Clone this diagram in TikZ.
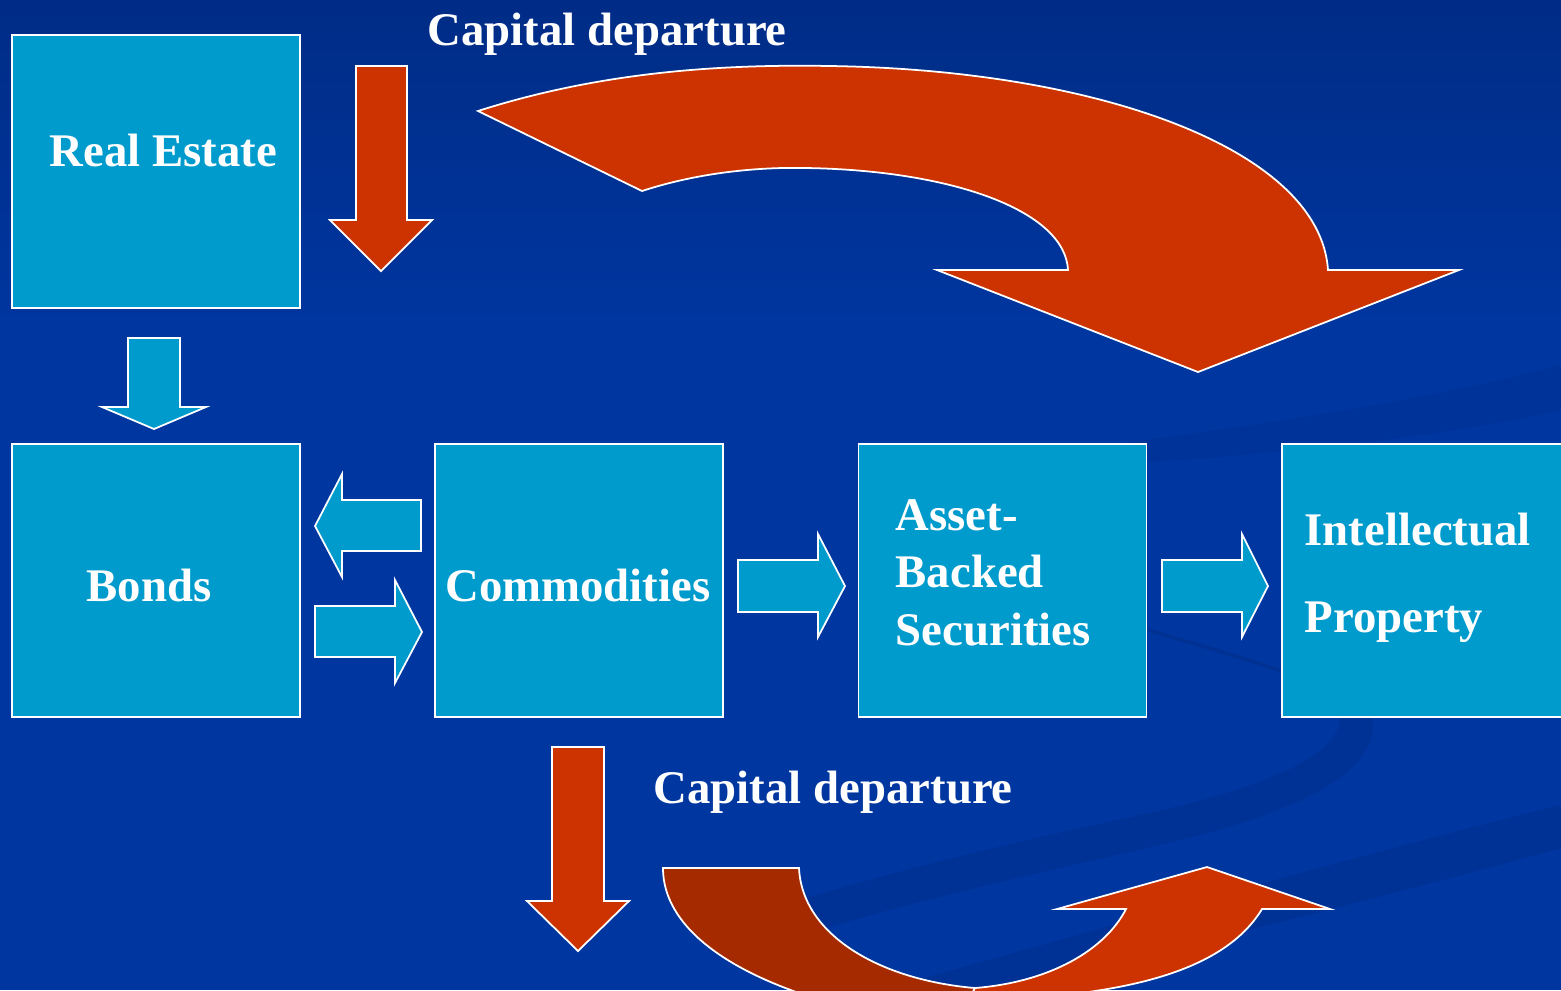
\documentclass[tikz,border=0pt]{standalone}
\usepackage{fontspec}
\setmainfont{Liberation Serif}
\usetikzlibrary{positioning}

\definecolor{bgblue}{HTML}{0036A0}
\definecolor{bgtop}{HTML}{002C86}
\definecolor{swoosh}{HTML}{002F8E}
\definecolor{boxblue}{HTML}{009BCD}
\definecolor{flowred}{HTML}{CC3300}
\definecolor{flowdark}{HTML}{A52A00}

\tikzset{
  asset/.style={draw=white, fill=boxblue, line width=0.5pt, minimum width=2.88cm, minimum height=2.73cm, inner sep=0pt, outer sep=0pt},
  boxtext/.style={text=white, font=\fontsize{13.3}{16.2}\selectfont\bfseries, inner sep=0pt},
  redarrow/.style={draw=white, fill=flowred, line width=0.5pt},
  darkarrow/.style={draw=white, fill=flowdark, line width=0.5pt},
  bluearrow/.style={draw=white, fill=boxblue, line width=0.5pt},
}

\begin{document}
\begin{tikzpicture}[x=0.01cm, y=-0.01cm]
\useasboundingbox (0,0) rectangle (1561,990);
\clip (0,0) rectangle (1561,990);
% background
\fill[bgblue] (0,0) rectangle (1561,990);
\shade[top color=bgtop, bottom color=bgblue] (0,0) rectangle (1561,330);
\fill[swoosh, opacity=0.35] (1100,446) .. controls (1300,420) and (1450,395) .. (1561,365) -- (1561,410) .. controls (1450,435) and (1300,452) .. (1150,462) -- cycle;
\fill[swoosh, opacity=0.6] (1340,717) .. controls (1340,760) and (1250,790) .. (1150,813) .. controls (1000,845) and (900,870) .. (800,900) -- (820,930) .. controls (950,890) and (1100,860) .. (1200,835) .. controls (1330,800) and (1380,760) .. (1372,717) -- cycle;
\fill[swoosh, opacity=0.6] (1561,805) -- (1561,848) .. controls (1300,920) and (1100,965) .. (1000,990) -- (880,990) .. controls (1100,930) and (1300,870) .. cycle;
\draw[swoosh, line width=1pt, opacity=0.7] (1130,625) .. controls (1200,645) and (1250,660) .. (1290,674);

% boxes
\node[asset] (bonds) at (156,580.5) {};
\node[asset, above=1.36cm of bonds] (estate) {};
\node[asset, right=1.35cm of bonds] (comm) {};
\node[asset, right=1.35cm of comm] (abs) {};
\node[asset, right=1.35cm of abs] (ip) {};

\node[boxtext, anchor=base west] (estatetxt) at (49,166) {Real Estate};
\node[boxtext, anchor=base] (bondstxt) at (149,601) {Bonds};
\node[boxtext, anchor=base] (commtxt) at (578,601) {Commodities};
\node[boxtext, anchor=base west] (abs1) at (895,530) {Asset-};
\node[boxtext, anchor=base west] (abs2) at (895,587) {Backed};
\node[boxtext, anchor=base west] (abs3) at (895,645) {Securities};
\node[boxtext, anchor=base west] (ip1) at (1304,545) {Intellectual};
\node[boxtext, anchor=base west] (ip2) at (1304,632) {Property};

% blue block arrows
\draw[bluearrow] (128,338) -- (180,338) -- (180,407) -- (206,407) -- (154,429) -- (102,407) -- (128,407) -- cycle;
\draw[bluearrow] (421,500) -- (342,500) -- (342,474) -- (315,526) -- (342,577) -- (342,551) -- (421,551) -- cycle;
\draw[bluearrow] (315,606) -- (395,606) -- (395,580) -- (422,632) -- (395,683) -- (395,657) -- (315,657) -- cycle;
\draw[bluearrow] (738,560) -- (818,560) -- (818,534) -- (845,586) -- (818,637) -- (818,612) -- (738,612) -- cycle;
\draw[bluearrow] (1162,560) -- (1242,560) -- (1242,534) -- (1268,586) -- (1242,637) -- (1242,612) -- (1162,612) -- cycle;

% capital departure
\node[boxtext, anchor=base west] (captop) at (427,45) {Capital departure};
\node[boxtext, anchor=base west] (capbot) at (653,803) {Capital departure};
\draw[redarrow] (356,66) -- (407,66) -- (407,220) -- (432,220) -- (381,271) -- (330,220) -- (356,220) -- cycle;
\draw[redarrow] (552,747) -- (604,747) -- (604,901) -- (629,901) -- (578,951) -- (527,901) -- (552,901) -- cycle;
\draw[redarrow] (478,111) .. controls (600,72) and (720,64) .. (830,66) .. controls (1100,70) and (1320,150) .. (1328,270) -- (1459,270) -- (1198,372) -- (937,270) -- (1068,270) .. controls (1065,210) and (950,170) .. (805,168) .. controls (760,167) and (700,172) .. (642,191) -- cycle;
\draw[darkarrow] (663,868) -- (799,868) .. controls (802,935) and (880,980) .. (975,988) -- (975,1030) .. controls (790,1010) and (663,950) .. (663,868) -- cycle;
\draw[redarrow] (975,988) .. controls (1050,982) and (1105,950) .. (1126,909) -- (1057,909) -- (1207,867) -- (1330,909) -- (1262,909) .. controls (1225,970) and (1130,995) .. (990,1000) -- (960,1015) -- cycle;
\end{tikzpicture}
\end{document}
